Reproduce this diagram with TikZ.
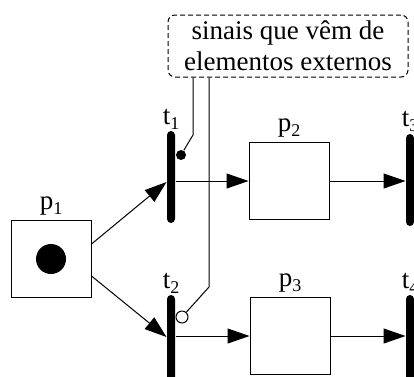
\documentclass[tikz,border=0pt]{standalone}
\usepackage{fontspec}
\setmainfont{Liberation Serif}
\usetikzlibrary{arrows.meta, positioning, calc}

\newcommand{\sublab}[2]{#1\raisebox{-5pt}{\fontsize{18}{18}\selectfont #2}}

\begin{document}
\begin{tikzpicture}[x=1pt, y=-1pt, line width=1pt,
    place/.style={draw, minimum width=80pt, minimum height=77pt, inner sep=0pt},
    trans/.style={fill=black, rounded corners=4pt, minimum width=8pt, minimum height=92pt, inner sep=0pt},
    token/.style={circle, fill=black, minimum size=30pt, inner sep=0pt},
    lbl/.style={inner sep=0pt, font=\fontsize{27}{27}\selectfont},
    arc/.style={-{Triangle[length=22pt, width=15pt]}},
    signal/.style={draw, dash pattern=on 5pt off 3pt, rounded corners=7pt, minimum width=240pt,
      minimum height=62pt, inner sep=0pt, align=center, font=\fontsize{27}{31}\selectfont},
    sigdot/.style={circle, fill=black, minimum size=10pt, inner sep=0pt},
    sigring/.style={circle, draw, fill=white, minimum size=12pt, inner sep=0pt}]
  \useasboundingbox (0,0) rectangle (414,376);

  % Places
  \node[place] (p1) at (51,259) {};
  \node[token] (m1) at (p1.center) {};
  \node[place] (p2) at (289,181) {};
  \node[place] (p3) at (290,336) {};

  % Transitions
  \node[trans] (t1) at (171,177) {};
  \node[trans] (t2) at (171,341) {};
  \node[trans] (t3) at (410,180) {};
  \node[trans] (t4) at (410,341) {};

  % Labels
  \foreach \n/\s/\d in {p1/p/1, p2/p/2, p3/p/3}
    \node[lbl, above=4pt of \n] {\sublab{\s}{\d}};
  \foreach \n/\s/\d in {t1/t/1, t2/t/2, t3/t/3, t4/t/4}
    \node[lbl, above=1pt of \n] {\sublab{\s}{\d}};

  % Arcs
  \draw[arc] ([yshift=15pt]p1.east) -- ([yshift=-5pt]t1.west);
  \draw[arc] ([yshift=-17pt]p1.east) -- ([yshift=4pt]t2.west);
  \draw[arc] (t1.east |- p2.west) -- (p2.west);
  \draw[arc] (p2.east) -- (p2.east -| t3.west);
  \draw[arc] (t2.east |- p3.west) -- (p3.west);
  \draw[arc] (p3.east) -- (p3.east -| t4.west);

  % External signals
  \node[signal] (sig) at (288,46) {sinais que vêm de\\elementos externos};
  \node[sigdot] (s1) at (181,155) {};
  \node[sigring] (s2) at (182,317) {};
  \coordinate (k1) at (193,135);
  \coordinate (k2) at (209,287);
  \draw (s1) -- (k1) -- (k1 |- sig.south);
  \draw (s2) -- (k2) -- (k2 |- sig.south);

\end{tikzpicture}
\end{document}
